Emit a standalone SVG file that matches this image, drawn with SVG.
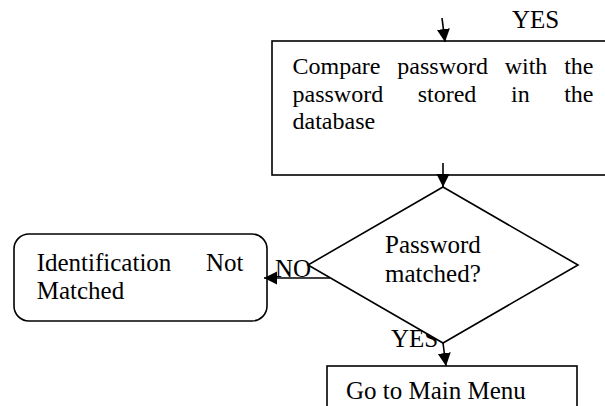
<svg xmlns="http://www.w3.org/2000/svg" width="605" height="406" viewBox="0 0 605 406">
<style>
.t{font-family:"Liberation Serif","Times New Roman",serif;font-size:25px;fill:#000}
.s{font-size:24px}
.box{fill:#fff;stroke:#000;stroke-width:1.6}
.ln{fill:none;stroke:#000;stroke-width:1.6}
</style>
<defs>
<marker id="ah" markerUnits="userSpaceOnUse" markerWidth="14" markerHeight="14" viewBox="0 0 14 14" refX="13" refY="7" orient="auto">
<path d="M0,0.5 L13,7 L0,13.5 Z" fill="#000"/>
</marker>
</defs>
<rect width="605" height="406" fill="#fff"/>
<g id="labels">
<text class="t" x="512" y="28">YES</text>
<text class="t" x="275" y="277">NO</text>
<text class="t" x="391" y="347">YES</text>
</g>
<g id="compare">
<rect class="box" x="272" y="41" width="345" height="134"/>
<text class="t s" y="74"><tspan x="292.5">Compare</tspan><tspan x="397.3">password</tspan><tspan x="504.7">with</tspan><tspan x="564.2">the</tspan></text>
<text class="t s" y="101.5"><tspan x="292.5">password</tspan><tspan x="417.7">stored</tspan><tspan x="511">in</tspan><tspan x="564.2">the</tspan></text>
<text class="t s" x="292.5" y="129">database</text>
</g>
<g id="notmatched">
<rect class="box" x="14" y="234" width="253" height="87" rx="15"/>
<text class="t" y="271"><tspan x="36.7">Identification</tspan><tspan x="206">Not</tspan></text>
<text class="t" x="36.7" y="299">Matched</text>
</g>
<g id="decision">
<path class="box" d="M443,187 L578,265 L443,343 L308,265 Z"/>
<text class="t" x="385" y="253">Password</text>
<text class="t" x="385" y="282">matched?</text>
</g>
<g id="mainmenu">
<rect class="box" x="327" y="366" width="250" height="60"/>
<text class="t" x="346" y="399">Go to Main Menu</text>
</g>
<g id="connectors">
<line class="ln" x1="442" y1="18" x2="445" y2="42" marker-end="url(#ah)"/>
<line class="ln" x1="443" y1="163" x2="443" y2="187" marker-end="url(#ah)"/>
<line class="ln" x1="330" y1="278" x2="264" y2="278" marker-end="url(#ah)"/>
<line class="ln" x1="443" y1="343" x2="446" y2="366" marker-end="url(#ah)"/>
</g>
</svg>
